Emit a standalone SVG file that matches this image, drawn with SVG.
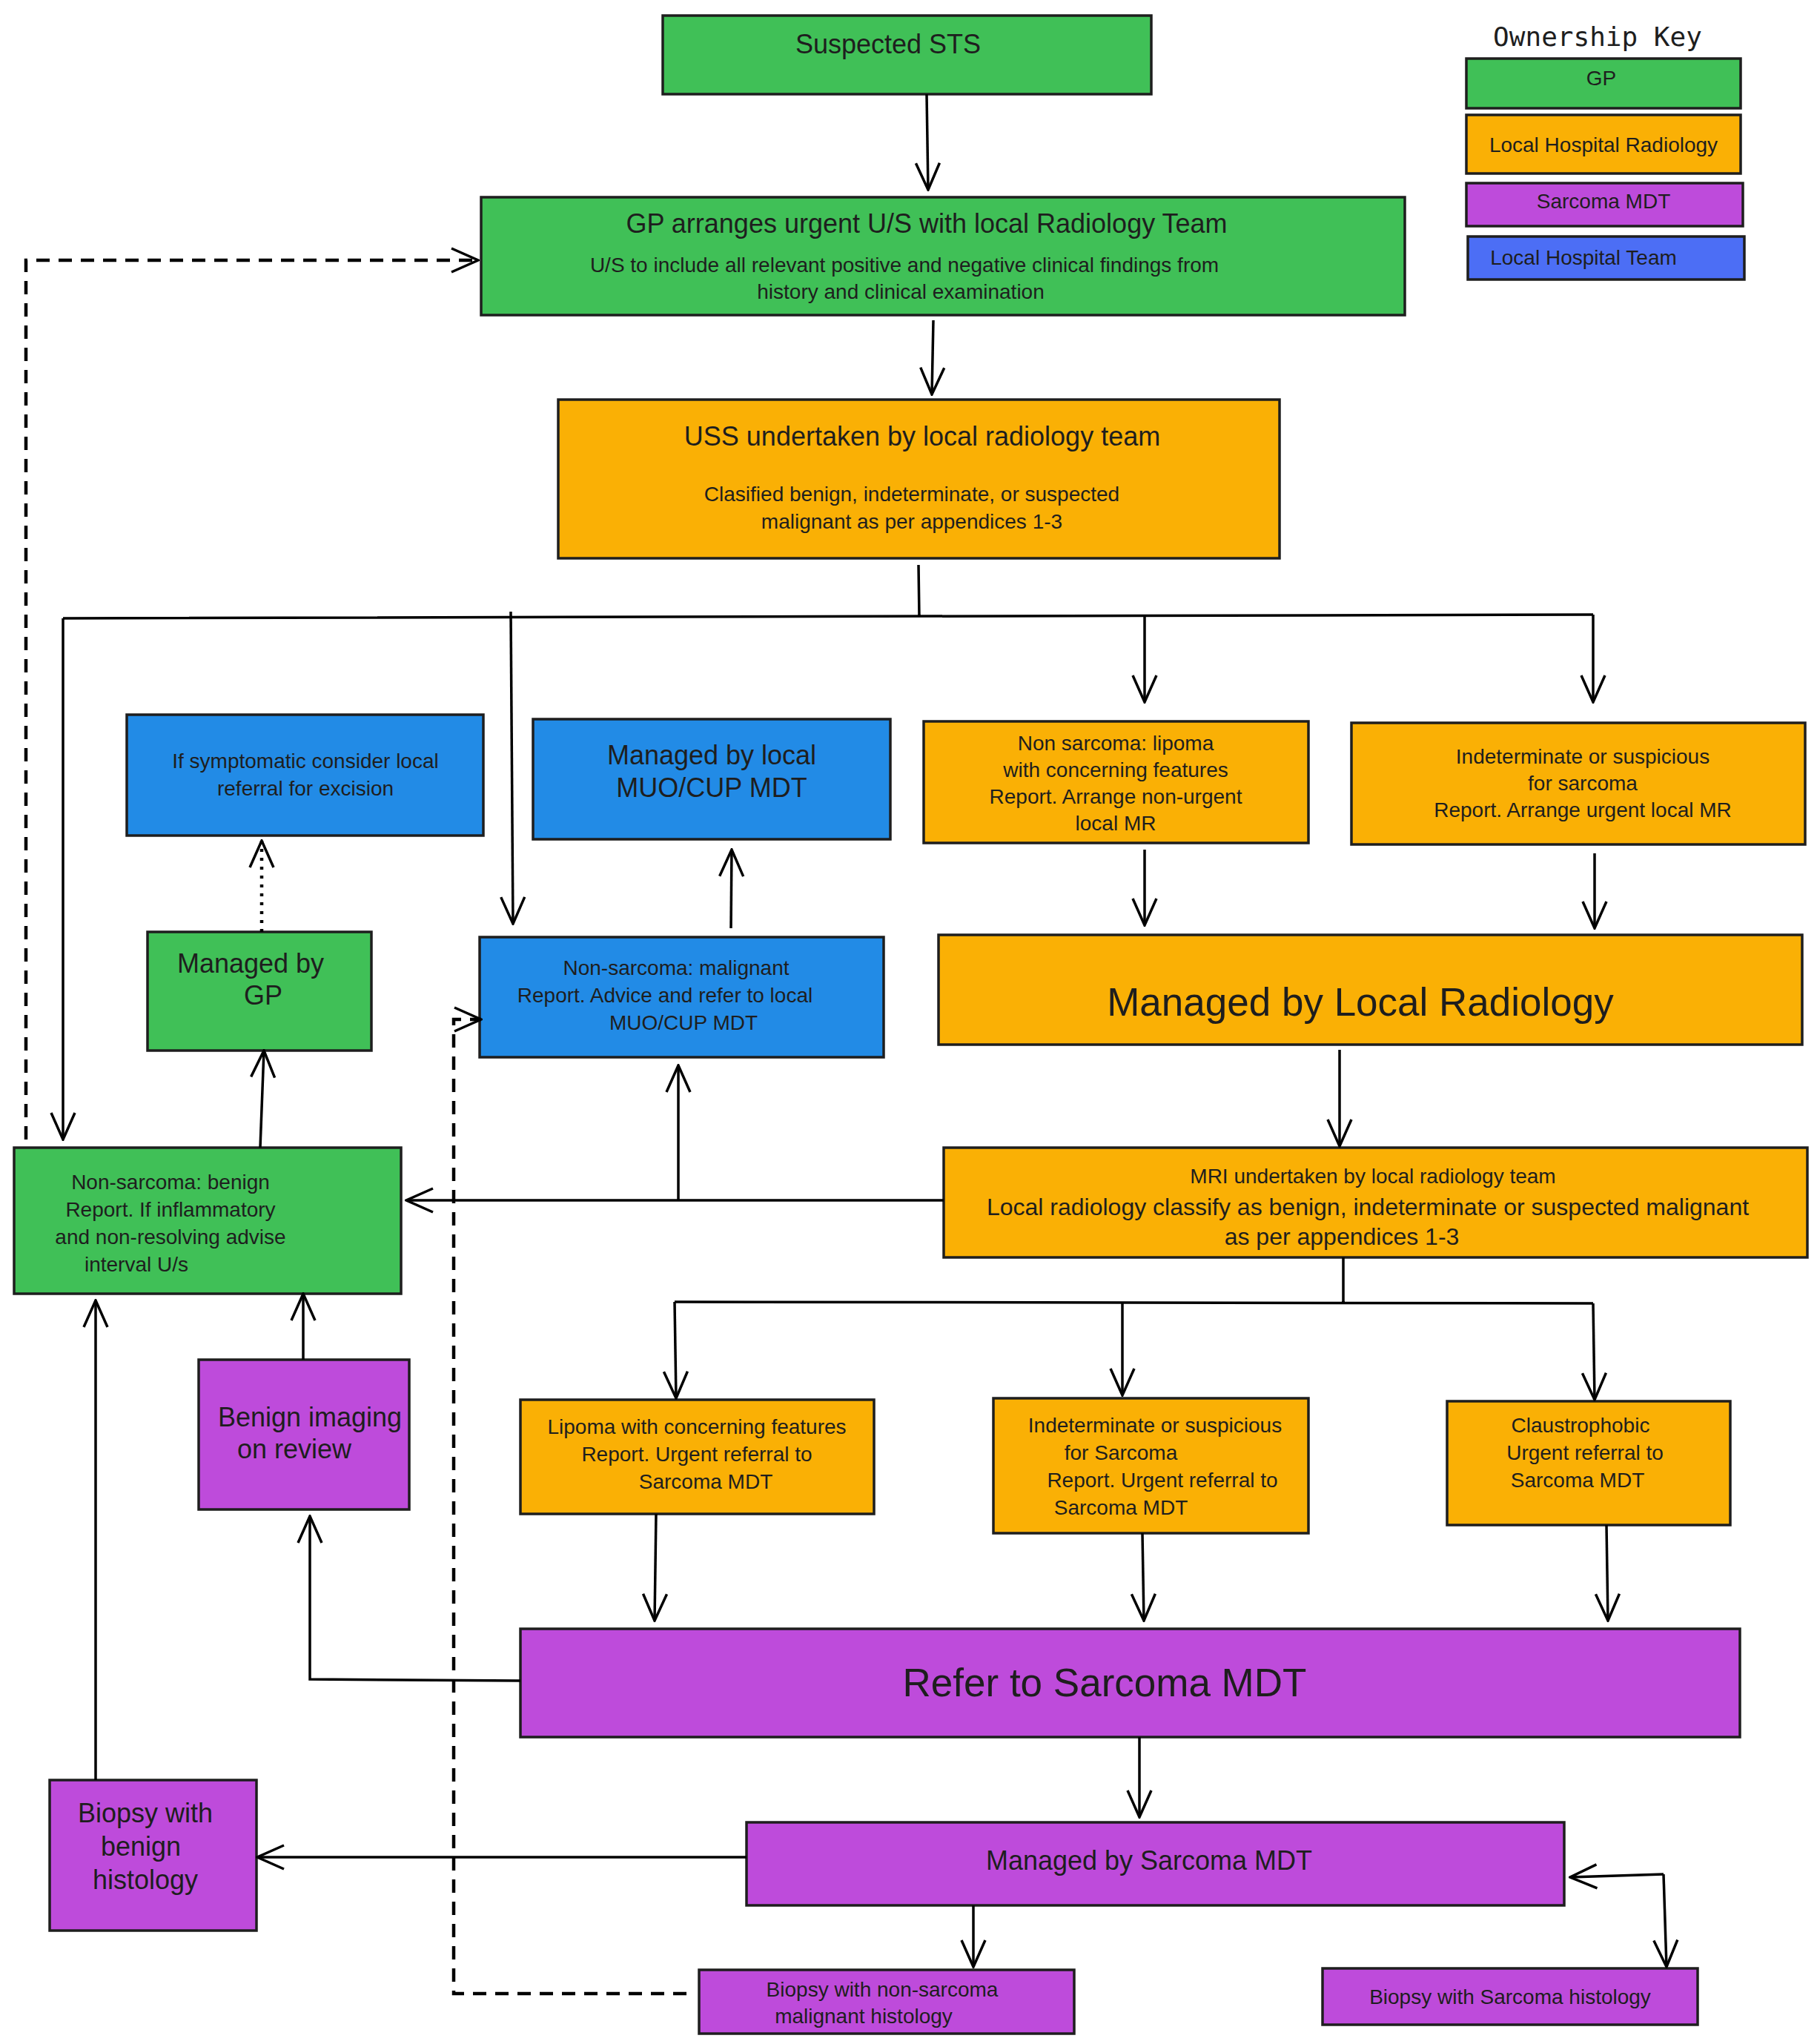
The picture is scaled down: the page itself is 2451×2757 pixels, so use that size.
<svg xmlns="http://www.w3.org/2000/svg" width="2451" height="2757" viewBox="0 0 2451 2757">
<defs>
<marker id="a" viewBox="0 0 40 40" refX="38" refY="20" markerWidth="40" markerHeight="40" markerUnits="userSpaceOnUse" orient="auto"><path d="M2,4 L38,20 L2,36" fill="none" stroke="#000" stroke-width="3.5"/></marker>
<style>
rect{stroke:#1e1e1e;stroke-width:3.5}
.g{fill:#40c057}.o{fill:#fab005}.p{fill:#be4bdb}.b{fill:#228be6}.k{fill:#4c6ef5}
text{font-family:"Liberation Sans",Arial,sans-serif;fill:#1e1e1e;text-anchor:middle}
.s{font-size:28px}.m{font-size:36px}.l{font-size:53px}
.c path{fill:none;stroke:#000;stroke-width:3.5}
.c .d{stroke-dasharray:18 12;stroke-width:4.5}
.c .t{stroke-dasharray:4 8;stroke-width:4.5}
</style>
</defs>
<rect width="2451" height="2757" fill="#fff" style="stroke:none"/>
<g id="key">
<text x="2155" y="62" style="font-family:'DejaVu Sans Mono',monospace;font-size:36px">Ownership Key</text>
<rect class="g" x="1978" y="79" width="370" height="67"/><text class="s" x="2160" y="115">GP</text>
<rect class="o" x="1978" y="155" width="370" height="79"/><text class="s" x="2163" y="205">Local Hospital Radiology</text>
<rect class="p" x="1978" y="247" width="373" height="58"/><text class="s" x="2163" y="281">Sarcoma MDT</text>
<rect class="k" x="1980" y="319" width="373" height="58"/><text class="s" x="2136" y="357">Local Hospital Team</text>
</g>
<g id="n1"><rect class="g" x="894" y="21" width="659" height="106"/><text class="m" x="1198" y="72">Suspected STS</text></g>
<g id="n2"><rect class="g" x="649" y="266" width="1246" height="159"/><text class="m" x="1250" y="314">GP arranges urgent U/S with local Radiology Team</text><text class="s" x="1220" y="367">U/S to include all relevant positive and negative clinical findings from</text><text class="s" x="1215" y="403">history and clinical examination</text></g>
<g id="n3"><rect class="o" x="753" y="539" width="973" height="214"/><text class="m" x="1244" y="601">USS undertaken by local radiology team</text><text class="s" x="1230" y="676">Clasified benign, indeterminate, or suspected</text><text class="s" x="1230" y="713">malignant as per appendices 1-3</text></g>
<g id="n4"><rect class="b" x="171" y="964" width="481" height="163"/><text class="s" x="412" y="1036">If symptomatic consider local</text><text class="s" x="412" y="1073">referral for excision</text></g>
<g id="n5"><rect class="b" x="719" y="970" width="482" height="162"/><text class="m" x="960" y="1031">Managed by local</text><text class="m" x="960" y="1075">MUO/CUP MDT</text></g>
<g id="n6"><rect class="o" x="1246" y="973" width="519" height="164"/><text class="s" x="1505" y="1012">Non sarcoma: lipoma</text><text class="s" x="1505" y="1048">with concerning features</text><text class="s" x="1505" y="1084">Report. Arrange non-urgent</text><text class="s" x="1505" y="1120">local MR</text></g>
<g id="n7"><rect class="o" x="1823" y="975" width="612" height="164"/><text class="s" x="2135" y="1030">Indeterminate or suspicious</text><text class="s" x="2135" y="1066">for sarcoma</text><text class="s" x="2135" y="1102">Report. Arrange urgent local MR</text></g>
<g id="n8"><rect class="g" x="199" y="1257" width="302" height="160"/><text class="m" x="338" y="1312">Managed by</text><text class="m" x="355" y="1355">GP</text></g>
<g id="n9"><rect class="b" x="647" y="1264" width="545" height="162"/><text class="s" x="912" y="1315">Non-sarcoma: malignant</text><text class="s" x="897" y="1352">Report. Advice and refer to local</text><text class="s" x="922" y="1389">MUO/CUP MDT</text></g>
<g id="n10"><rect class="o" x="1266" y="1261" width="1165" height="148"/><text class="l" x="1835" y="1370">Managed by Local Radiology</text></g>
<g id="n11"><rect class="g" x="19" y="1548" width="522" height="197"/><text class="s" x="230" y="1604">Non-sarcoma: benign</text><text class="s" x="230" y="1641">Report. If inflammatory</text><text class="s" x="230" y="1678">and non-resolving advise</text><text class="s" x="184" y="1715">interval U/s</text></g>
<g id="n12"><rect class="o" x="1273" y="1548" width="1165" height="148"/><text class="s" x="1852" y="1596">MRI undertaken by local radiology team</text><text class="m" x="1845" y="1639" style="font-size:32px">Local radiology classify as benign, indeterminate or suspected malignant</text><text class="m" x="1810" y="1679" style="font-size:32px">as per appendices 1-3</text></g>
<g id="n13"><rect class="p" x="268" y="1834" width="284" height="202"/><text class="m" x="418" y="1924">Benign imaging</text><text class="m" x="397" y="1967">on review</text></g>
<g id="n14"><rect class="o" x="702" y="1888" width="477" height="154"/><text class="s" x="940" y="1934">Lipoma with concerning features</text><text class="s" x="940" y="1971">Report. Urgent referral to</text><text class="s" x="952" y="2008">Sarcoma MDT</text></g>
<g id="n15"><rect class="o" x="1340" y="1886" width="425" height="182"/><text class="s" x="1558" y="1932">Indeterminate or suspicious</text><text class="s" x="1512" y="1969">for Sarcoma</text><text class="s" x="1568" y="2006">Report. Urgent referral to</text><text class="s" x="1512" y="2043">Sarcoma MDT</text></g>
<g id="n16"><rect class="p" x="1952" y="1890" width="382" height="167" style="fill:#fab005"/><text class="s" x="2132" y="1932">Claustrophobic</text><text class="s" x="2138" y="1969">Urgent referral to</text><text class="s" x="2128" y="2006">Sarcoma MDT</text></g>
<g id="n17"><rect class="p" x="702" y="2197" width="1645" height="146"/><text class="l" x="1490" y="2288">Refer to Sarcoma MDT</text></g>
<g id="n18"><rect class="p" x="1007" y="2458" width="1103" height="112"/><text class="m" x="1550" y="2522">Managed by Sarcoma MDT</text></g>
<g id="n19"><rect class="p" x="67" y="2401" width="279" height="203"/><text class="m" x="196" y="2458">Biopsy with</text><text class="m" x="190" y="2503">benign</text><text class="m" x="196" y="2548">histology</text></g>
<g id="n20"><rect class="p" x="943" y="2657" width="506" height="86"/><text class="s" x="1190" y="2693">Biopsy with non-sarcoma</text><text class="s" x="1165" y="2729">malignant histology</text></g>
<g id="n21"><rect class="p" x="1784" y="2655" width="506" height="76"/><text class="s" x="2037" y="2703">Biopsy with Sarcoma histology</text></g>
<g class="c" id="connectors">
<path d="M1250,127 L1252,256" marker-end="url(#a)"/>
<path d="M1259,432 L1257,532" marker-end="url(#a)"/>
<path d="M1239,762 L1240,832 M85,834 L2149,829"/>
<path d="M85,834 L85,1537" marker-end="url(#a)"/>
<path d="M689,825 L692,1246" marker-end="url(#a)"/>
<path d="M1544,829 L1544,947" marker-end="url(#a)"/>
<path d="M2149,829 L2149,947" marker-end="url(#a)"/>
<path d="M1544,1146 L1544,1248" marker-end="url(#a)"/>
<path d="M2151,1151 L2151,1252" marker-end="url(#a)"/>
<path d="M1807,1416 L1807,1546" marker-end="url(#a)"/>
<path d="M1273,1619 L548,1619" marker-end="url(#a)"/>
<path d="M915,1619 L915,1437" marker-end="url(#a)"/>
<path d="M986,1252 L987,1146" marker-end="url(#a)"/>
<path class="t" d="M353,1257 L353,1134" marker-end="url(#a)"/>
<path d="M351,1548 L356,1417" marker-end="url(#a)"/>
<path d="M409,1834 L409,1745" marker-end="url(#a)"/>
<path class="d" d="M35,1537 L35,351 L645,351" marker-end="url(#a)"/>
<path d="M1812,1696 L1812,1756 M910,1756 L2149,1758"/>
<path d="M910,1756 L912,1886" marker-end="url(#a)"/>
<path d="M1514,1756 L1514,1882" marker-end="url(#a)"/>
<path d="M2149,1758 L2151,1888" marker-end="url(#a)"/>
<path d="M885,2042 L883,2186" marker-end="url(#a)"/>
<path d="M1541,2068 L1543,2186" marker-end="url(#a)"/>
<path d="M2167,2057 L2169,2186" marker-end="url(#a)"/>
<path d="M702,2267 L418,2265 L418,2045" marker-end="url(#a)"/>
<path d="M1537,2343 L1537,2451" marker-end="url(#a)"/>
<path d="M1007,2505 L347,2505" marker-end="url(#a)"/>
<path d="M129,2401 L129,1754" marker-end="url(#a)"/>
<path d="M1313,2570 L1313,2653" marker-end="url(#a)"/>
<path d="M2244,2528 L2118,2532" marker-end="url(#a)"/>
<path d="M2244,2528 L2248,2653" marker-end="url(#a)"/>
<path class="d" d="M926,2689 L612,2689 L612,1375 L649,1375" marker-end="url(#a)"/>
</g>
</svg>
